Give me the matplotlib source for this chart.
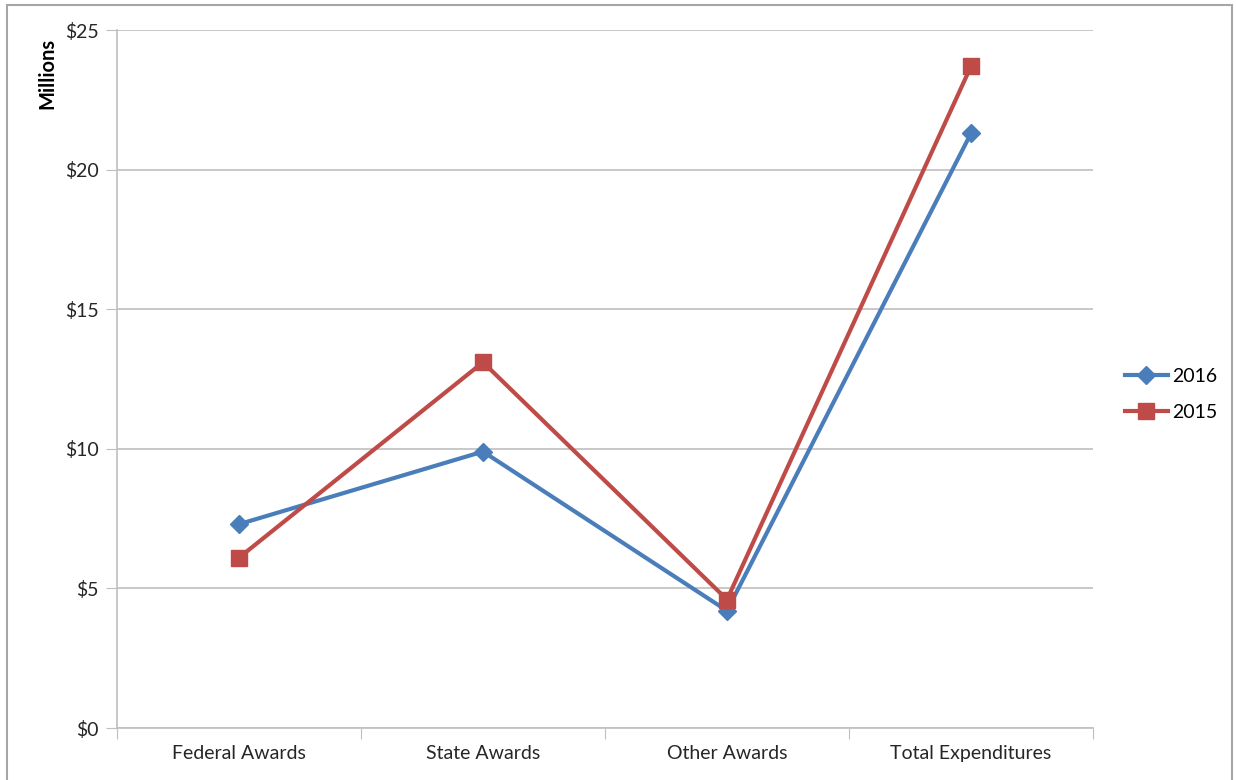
import numpy as np
import matplotlib as mpl
import matplotlib.pyplot as plt
from matplotlib.patches import Rectangle

mpl.use("Agg")
plt.rcParams["font.family"] = ["Lato", "DejaVu Sans"]

categories = ["Federal Awards", "State Awards", "Other Awards", "Total Expenditures"]
values_2016 = [7.3, 9.9, 4.2, 21.3]
values_2015 = [6.1, 13.1, 4.6, 23.7]
y_ticks = [0, 5, 10, 15, 20, 25]
y_labels = ["$0", "$5", "$10", "$15", "$20", "$25"]

BLUE = "#4a7ebb"
RED = "#be4b48"
GRID = "#bfbfbf"

fig = plt.figure(figsize=(12.36, 7.8), dpi=100)
fig.patches.append(Rectangle((7 / 1236, -0.1), 1225 / 1236, 1.1 - 5 / 780,
                             transform=fig.transFigure, fill=False,
                             edgecolor="#a6a6a6", linewidth=1.5))

ax = fig.add_axes([117 / 1236, 1 - 728 / 780, 976 / 1236, 698 / 780])
x = np.arange(len(categories)) + 0.5

ax.plot(x, values_2016, color=BLUE, linewidth=3, marker="D", markersize=9,
        label="2016", zorder=3)
ax.plot(x, values_2015, color=RED, linewidth=3, marker="s", markersize=11,
        label="2015", zorder=3)

ax.set_xlim(0, 4)
ax.set_ylim(0, 25)
ax.set_yticks(y_ticks)
ax.set_yticklabels(y_labels)
ax.set_xticks(np.arange(5))
ax.set_xticklabels([])
ax.set_xticks(x, minor=True)
ax.set_xticklabels(categories, minor=True)
ax.tick_params(axis="x", which="minor", length=0, pad=12, labelsize=14, colors="#262626")
ax.tick_params(axis="x", which="major", length=8, direction="out", color=GRID)
ax.tick_params(axis="y", length=8, color=GRID, labelsize=14, labelcolor="#262626", pad=5)

ax.grid(axis="y", color=GRID, linewidth=1.2)
ax.set_axisbelow(True)
for side in ["top", "right"]:
    ax.spines[side].set_visible(False)
for side in ["left", "bottom"]:
    ax.spines[side].set_color(GRID)
    ax.spines[side].set_linewidth(1.2)

fig.text(47 / 1236, 1 - 73 / 780, "Millions", rotation=90, ha="center", va="center",
         fontsize=14.5, fontweight="bold", color="black")

ax.legend(loc="center left", bbox_to_anchor=(1.0246, 0.478), frameon=False,
          borderaxespad=0, fontsize=14, handlelength=2.2, labelspacing=1.0,
          handletextpad=0.25)

fig.savefig("out.png", dpi=100)
